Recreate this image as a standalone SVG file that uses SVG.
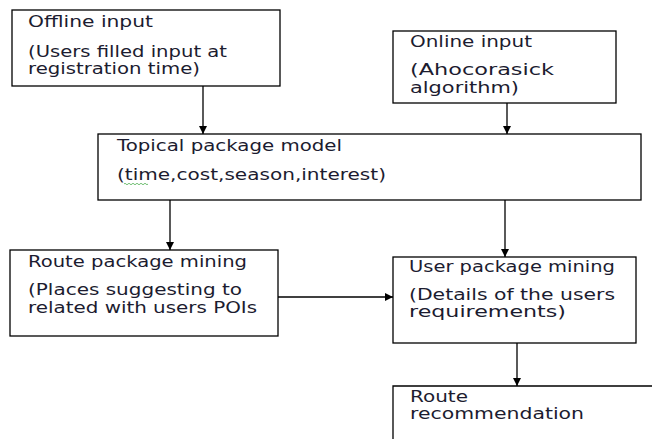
<svg xmlns="http://www.w3.org/2000/svg" width="652" height="439" viewBox="0 0 652 439">
<style>
.box{fill:#fff;stroke:#000;stroke-width:1.3}
.t{font-family:"DejaVu Sans","Liberation Sans",sans-serif;font-size:15px;fill:#1c1c30;lengthAdjust:spacing}
.c{stroke:#000;stroke-width:1.3;fill:none;marker-end:url(#ah)}
</style>
<defs>
<marker id="ah" viewBox="0 0 10 10" refX="10" refY="5" markerWidth="8" markerHeight="8" markerUnits="userSpaceOnUse" orient="auto">
<path d="M0,0 L10,5 L0,10 z" fill="#000"/>
</marker>
</defs>
<rect width="652" height="439" fill="#fff"/>
<g id="offline">
<rect class="box" x="12" y="10" width="268" height="76"/>
<text class="t" x="28" y="27" textLength="125" lengthAdjust="spacingAndGlyphs">Offline input</text>
<text class="t" x="28" y="57" textLength="199" lengthAdjust="spacingAndGlyphs">(Users filled input at</text>
<text class="t" x="28" y="74" textLength="172" lengthAdjust="spacingAndGlyphs">registration time)</text>
</g>
<g id="online">
<rect class="box" x="393" y="31" width="223" height="72"/>
<text class="t" x="410" y="47" textLength="122" lengthAdjust="spacingAndGlyphs">Online input</text>
<text class="t" x="410" y="75" textLength="144" lengthAdjust="spacingAndGlyphs">(Ahocorasick</text>
<text class="t" x="410" y="93" textLength="109" lengthAdjust="spacingAndGlyphs">algorithm)</text>
</g>
<g id="topical">
<rect class="box" x="98" y="134" width="543" height="66"/>
<text class="t" x="117" y="151" textLength="225" lengthAdjust="spacingAndGlyphs">Topical package model</text>
<text class="t" x="117" y="180" textLength="269" lengthAdjust="spacingAndGlyphs">(time,cost,season,interest)</text>
<path d="M124,184 q1,-1.5 2,0 t2,0 t2,0 t2,0 t2,0 t2,0 t2,0 t2,0 t2,0 t2,0 t2,0 t2,0" stroke="#4caf50" stroke-width="0.8" fill="none"/>
</g>
<g id="route">
<rect class="box" x="10" y="250" width="268" height="86"/>
<text class="t" x="28" y="267" textLength="219" lengthAdjust="spacingAndGlyphs">Route package mining</text>
<text class="t" x="28" y="295" textLength="214" lengthAdjust="spacingAndGlyphs">(Places suggesting to</text>
<text class="t" x="28" y="313" textLength="229" lengthAdjust="spacingAndGlyphs">related with users POIs</text>
</g>
<g id="user">
<rect class="box" x="393" y="257" width="243" height="86"/>
<text class="t" x="409" y="272" textLength="206" lengthAdjust="spacingAndGlyphs">User package mining</text>
<text class="t" x="409" y="300" textLength="206" lengthAdjust="spacingAndGlyphs">(Details of the users</text>
<text class="t" x="409" y="317" textLength="157" lengthAdjust="spacingAndGlyphs">requirements)</text>
</g>
<g id="recommendation">
<path d="M393,445 V386 H660" class="box" fill="none"/>
<text class="t" x="410" y="402" textLength="58" lengthAdjust="spacingAndGlyphs">Route</text>
<text class="t" x="410" y="419" textLength="174" lengthAdjust="spacingAndGlyphs">recommendation</text>
</g>
<g id="connectors">
<path class="c" d="M203,86 V134"/>
<path class="c" d="M507,103 V134"/>
<path class="c" d="M170,200 V250"/>
<path class="c" d="M505,200 V257"/>
<path class="c" d="M278,297 H393"/>
<path class="c" d="M517,343 V386"/>
</g>
</svg>
